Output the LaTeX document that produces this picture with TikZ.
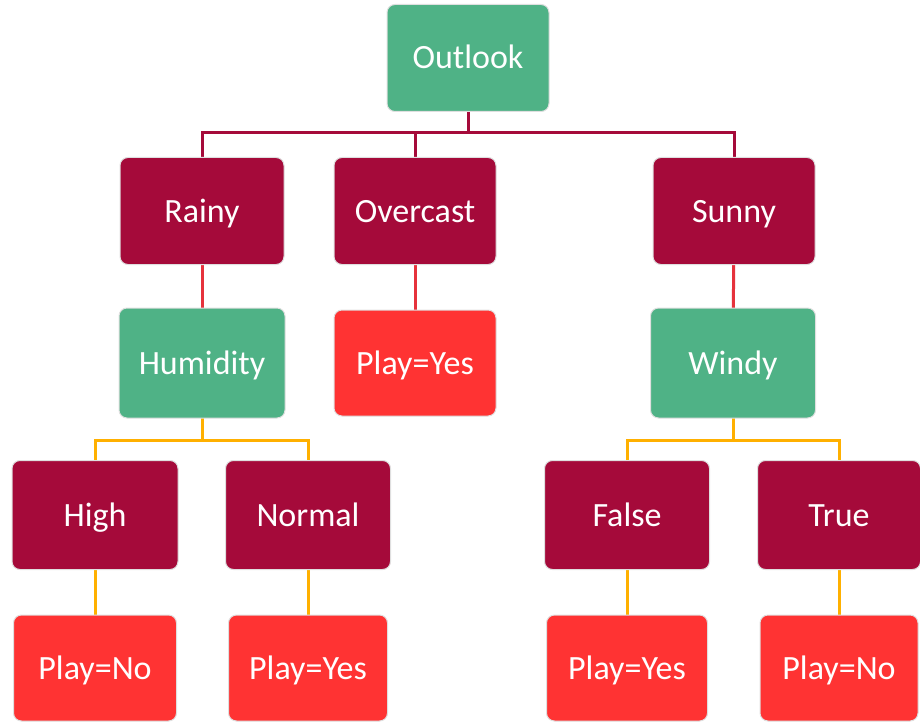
\documentclass[tikz,border=0pt]{standalone}
\usepackage{fontspec}
\setmainfont{Carlito}
\usepackage{tikz}

\definecolor{attrgreen}{RGB}{79,178,134}
\definecolor{valred}{RGB}{165,10,58}
\definecolor{leafred}{RGB}{255,51,51}
\definecolor{linered}{RGB}{230,50,60}
\definecolor{lineorange}{RGB}{255,176,0}

\tikzset{
	box/.style={rectangle,rounded corners=8pt,draw=gray!25,line width=1pt,
		text=white,font=\fontsize{34}{40}\selectfont,inner sep=0pt,
		text height=22pt,text depth=0pt},
	attr/.style={box,fill=attrgreen,minimum width=164pt,minimum height=108pt},
	val/.style={box,fill=valred,minimum width=164pt,minimum height=108pt},
	leaf/.style={box,fill=leafred,minimum width=162pt,minimum height=106pt},
	rootline/.style={draw=valred,line width=3pt},
	redline/.style={draw=linered,line width=3pt},
	orangeline/.style={draw=lineorange,line width=3pt}
}

\begin{document}
\begin{tikzpicture}[x=1pt,y=1pt]
		\useasboundingbox (0,0) rectangle (920,-722);
%		\draw[help lines] (0,0) grid (920,-722);
		\path (468,-58) coordinate (outlook_c);
		\path (468,-133) coordinate (outlook_bar);

		\path (202,-211) coordinate (rainy_c);
		\path (415,-211) coordinate (overcast_c);
		\path (734,-211) coordinate (sunny_c);

		\path (202,-363) coordinate (humidity_c);
		\path (415,-363) coordinate (yes1_c);
		\path (733,-363) coordinate (windy_c);
		\path (202,-440) coordinate (humidity_bar);
		\path (733,-440) coordinate (windy_bar);

		\path (95,-515) coordinate (high_c);
		\path (308,-515) coordinate (normal_c);
		\path (627,-515) coordinate (false_c);
		\path (839,-515) coordinate (true_c);

		\path (95,-668) coordinate (no1_c);
		\path (308,-668) coordinate (yes2_c);
		\path (627,-668) coordinate (yes3_c);
		\path (839,-668) coordinate (no2_c);

		% connectors first, boxes on top
		\draw[rootline] (outlook_c) -- (outlook_bar);
		\draw[rootline] (rainy_c) |- (outlook_bar) -| (sunny_c);
		\draw[rootline] (overcast_c) -- (overcast_c |- outlook_bar);
		\draw[redline] (rainy_c) -- (humidity_c);
		\draw[redline] (overcast_c) -- (yes1_c);
		\draw[redline] (sunny_c) -- (windy_c);
		\draw[orangeline] (humidity_c) -- (humidity_bar);
		\draw[orangeline] (high_c) |- (humidity_bar) -| (normal_c);
		\draw[orangeline] (windy_c) -- (windy_bar);
		\draw[orangeline] (false_c) |- (windy_bar) -| (true_c);
		\draw[orangeline] (high_c) -- (no1_c);
		\draw[orangeline] (normal_c) -- (yes2_c);
		\draw[orangeline] (false_c) -- (yes3_c);
		\draw[orangeline] (true_c) -- (no2_c);

		\node (outlook) [attr,minimum width=162pt,minimum height=107pt] at (outlook_c) {Outlook};

		\node (rainy) [val,minimum height=107pt] at (rainy_c) {Rainy};
		\node (overcast) [val,minimum width=162pt,minimum height=107pt] at (overcast_c) {Overcast};
		\node (sunny) [val,minimum width=162pt,minimum height=107pt] at (sunny_c) {Sunny};

		\node (humidity) [attr,minimum width=166pt,minimum height=110pt] at (humidity_c) {Humidity};
		\node (yes1) [leaf] at (yes1_c) {Play=Yes};
		\node (windy) [attr,minimum width=165pt,minimum height=110pt] at (windy_c) {Windy};

		\node (high) [val,minimum width=166pt,minimum height=109pt] at (high_c) {High};
		\node (normal) [val,minimum width=165pt,minimum height=109pt] at (normal_c) {Normal};
		\node (false) [val,minimum width=165pt,minimum height=109pt] at (false_c) {False};
		\node (true) [val,minimum width=163pt,minimum height=109pt] at (true_c) {True};

		\node (no1) [leaf,minimum width=163pt] at (no1_c) {Play=No};
		\node (yes2) [leaf,minimum width=159pt] at (yes2_c) {Play=Yes};
		\node (yes3) [leaf,minimum width=161pt] at (yes3_c) {Play=Yes};
		\node (no2) [leaf,minimum width=158pt] at (no2_c) {Play=No};
	\end{tikzpicture}
\end{document}
